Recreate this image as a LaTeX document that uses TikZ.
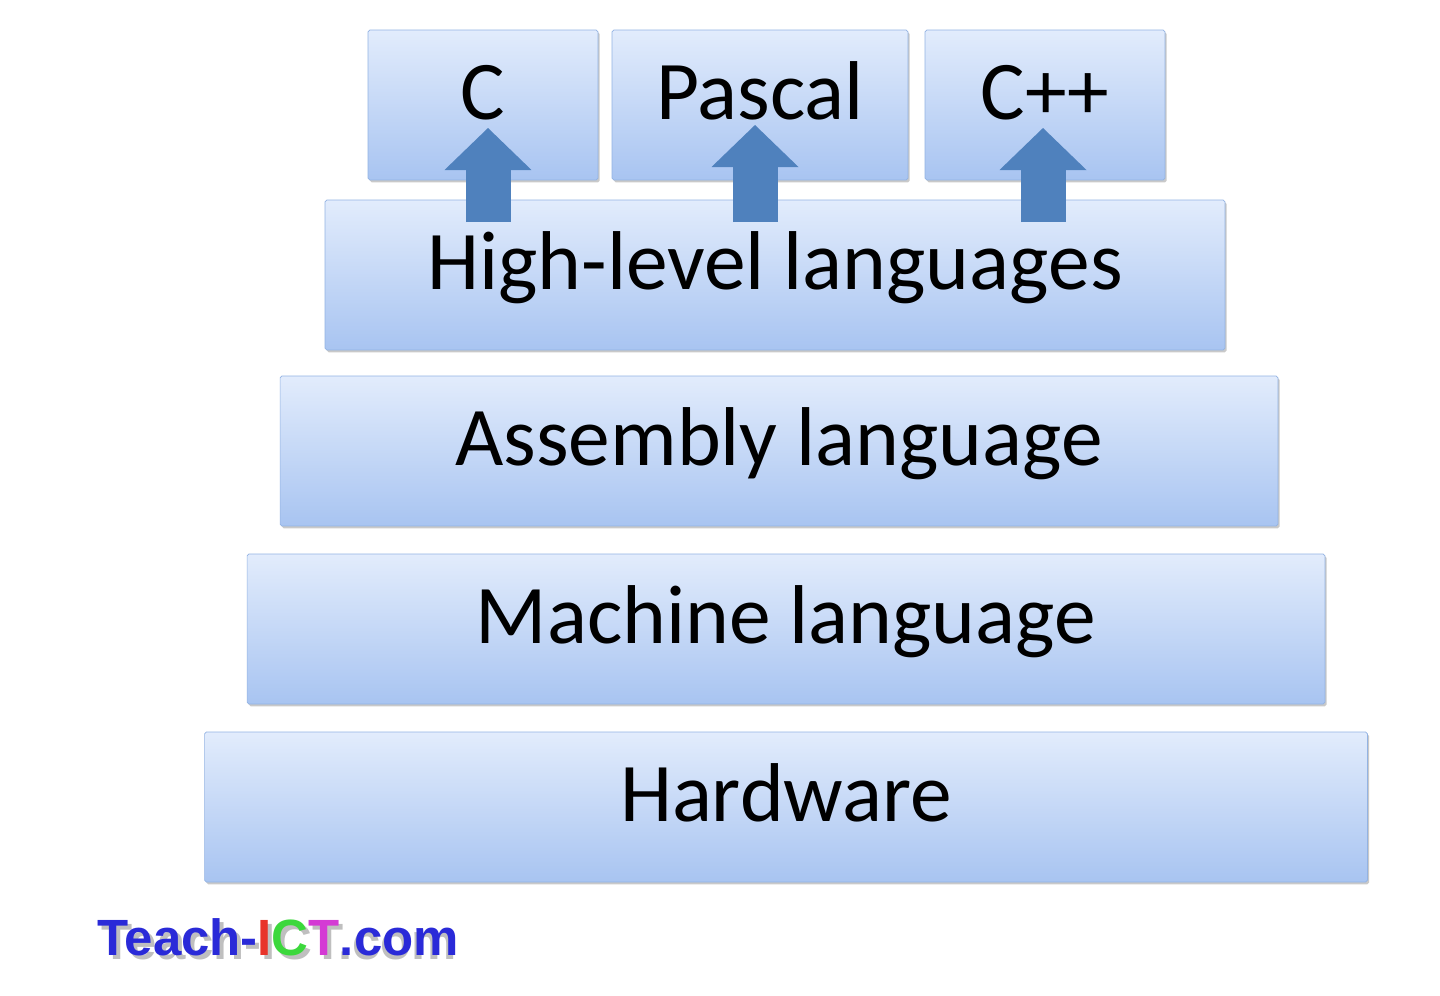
\documentclass[tikz,border=0pt]{standalone}
\usepackage{fontspec}
\setmainfont{Carlito}
\newfontfamily\logofont{Liberation Sans}
\usetikzlibrary{arrows.meta,shadows}

\definecolor{boxtop}{HTML}{E2ECFC}
\definecolor{boxbottom}{HTML}{A8C4F1}
\definecolor{boxline}{HTML}{93B3E3}
\definecolor{arrowblue}{HTML}{4F81BD}
\definecolor{logoblue}{HTML}{2A2AD8}
\definecolor{logored}{HTML}{E8342A}
\definecolor{logogreen}{HTML}{3CD83C}
\definecolor{logopink}{HTML}{D43AD4}

\tikzset{
  layer/.style={draw=boxline, rounded corners=1pt, top color=boxtop, bottom color=boxbottom,
    inner sep=0pt, text height=1.79cm, text depth=1.21cm, font=\fontsize{47.5}{50}\selectfont,
    drop shadow={shadow xshift=1pt, shadow yshift=-1.3pt, opacity=0.35, fill=black!60}},
  uparrow/.style={draw=arrowblue, line width=0.9cm, -{Triangle[length=0.84cm,width=1.74cm,line width=0pt]}}
}

\begin{document}
\begin{tikzpicture}[x=0.02cm,y=-0.02cm]

\path[fill=white] (0,0) rectangle (1440,995);
\useasboundingbox (0,0) rectangle (1440,995);

%languages
\node[layer,minimum width=4.6cm] (c) at (483,105) {C};
\node[layer,minimum width=5.92cm] (pascal) at (760,105) {Pascal};
\node[layer,minimum width=4.8cm] (cpp) at (1045,105) {C++};

%layers
\node[layer,minimum width=18cm] (hll) at (775,275) {High-level languages};
\node[layer,minimum width=19.96cm] (asm) at (779,451) {Assembly language};
\node[layer,minimum width=21.56cm] (mach) at (786,629) {Machine language};
\node[layer,minimum width=23.26cm] (hw) at (786,807) {Hardware};

%arrows
\coordinate (cfoot) at (488,222);
\coordinate (ctip) at (488,128);
\coordinate (pfoot) at (755,222);
\coordinate (ptip) at (755,125);
\coordinate (cppfoot) at (1043,222);
\coordinate (cpptip) at (1043,128);
\path[uparrow] (cfoot) -- (ctip);
\path[uparrow] (pfoot) -- (ptip);
\path[uparrow] (cppfoot) -- (cpptip);

%logo
\node[anchor=base west, inner sep=0pt, text=black!25, font=\logofont\bfseries\fontsize{29}{31}\selectfont] (logoshadow) at (101,959) {Teach-ICT.com};
\node[anchor=base west, inner sep=0pt, font=\logofont\bfseries\fontsize{29}{31}\selectfont] (logo) at (97,955)
  {\color{logoblue}Teach-\color{logored}I\color{logogreen}C\color{logopink}T\color{logoblue}.com};

\end{tikzpicture}
\end{document}
